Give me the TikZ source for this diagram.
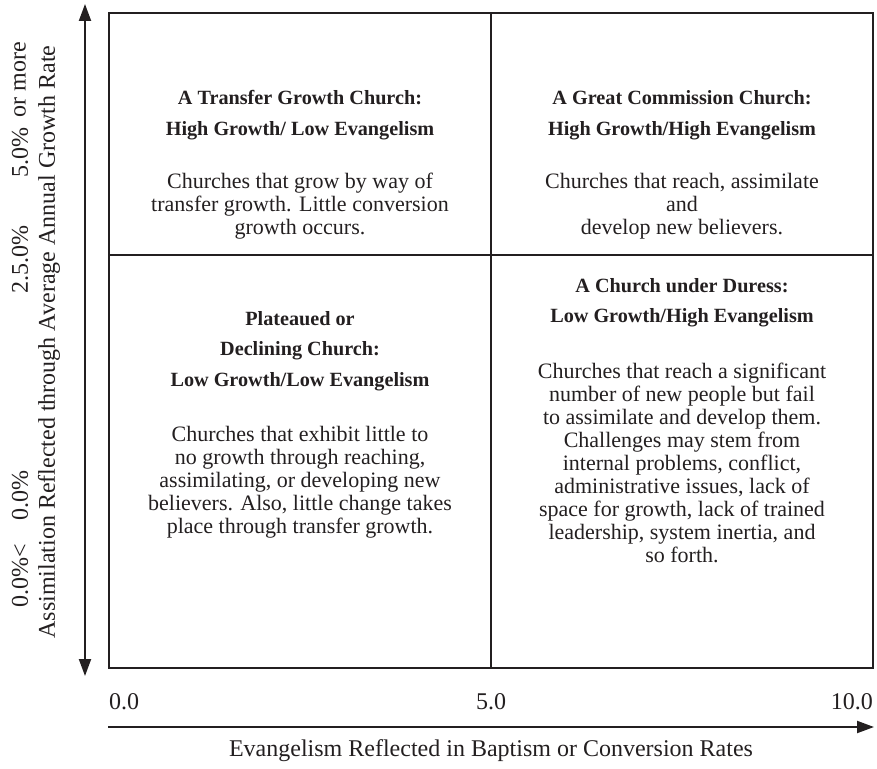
\documentclass[tikz,border=0pt]{standalone}
\usepackage{fontspec}
\setmainfont{Liberation Serif}
\usetikzlibrary{arrows.meta}
\definecolor{ink}{HTML}{231F20}
\begin{document}
\begin{tikzpicture}[x=1pt,y=-1pt,
  frame/.style={draw=ink,line width=2.4pt},
  axis/.style={draw=ink,line width=2pt},
  head/.style={text=ink,align=center,font=\fontsize{20.2}{30.5}\selectfont\bfseries},
  body/.style={text=ink,align=center,font=\fontsize{22}{23}\selectfont},
  lab/.style={text=ink,font=\fontsize{24}{26}\selectfont},
  vlab/.style={lab,rotate=90}]
\useasboundingbox (0,0) rectangle (877,768);
% frame
\coordinate (tl) at (109,13);
\coordinate (br) at (873,668);
\coordinate (mt) at (491,13);
\coordinate (mb) at (491,668);
\coordinate (ml) at (109,255);
\coordinate (mr) at (873,255);
\draw[frame] (tl) rectangle (br);
\draw[frame] (mt) -- (mb);
\draw[frame] (ml) -- (mr);
% axes
\coordinate (yb) at (85,676);
\coordinate (yt) at (85,4);
\coordinate (xl) at (108,727);
\coordinate (xr) at (874,727);
\draw[axis,{Triangle[length=17pt,width=12pt]}-{Triangle[length=17pt,width=12pt]}] (yb) -- (yt);
\draw[axis,-{Triangle[length=17pt,width=12pt]}] (xl) -- (xr);
% quadrant texts
\node[head] (h1) at (300,115) {A Transfer Growth Church:\\High Growth/ Low Evangelism};
\node[body] (b1) at (300,206) {Churches that grow by way of\\transfer growth. Little conversion\\growth occurs.};
\node[head] (h2) at (682,115) {A Great Commission Church:\\High Growth/High Evangelism};
\node[body] (b2) at (682,206) {Churches that reach, assimilate\\and\\develop new believers.};
\node[head] (h3) at (300,351) {Plateaued or\\Declining Church:\\Low Growth/Low Evangelism};
\node[body] (b3) at (300,482) {Churches that exhibit little to\\no growth through reaching,\\assimilating, or developing new\\believers. Also, little change takes\\place through transfer growth.};
\node[head] (h4) at (682,302.5) {A Church under Duress:\\Low Growth/High Evangelism};
\node[body] (b4) at (682,463) {Churches that reach a significant\\number of new people but fail\\to assimilate and develop them.\\Challenges may stem from\\internal problems, conflict,\\administrative issues, lack of\\space for growth, lack of trained\\leadership, system inertia, and\\so forth.};
% x axis labels
\node[lab,anchor=west] (x0) at (105.5,702) {0.0};
\node[lab] (x5) at (491,702) {5.0};
\node[lab,anchor=east] (x10) at (876.5,702) {10.0};
\node[lab] (xt) at (491,751) {Evangelism Reflected in Baptism or Conversion Rates};
% y axis labels
\node[vlab] (y0a) at (20,576) {0.0\%<};
\node[vlab] (y0b) at (20,495) {0.0\%};
\node[vlab] (y25) at (20,260) {2.5.0\%};
\node[vlab] (y5) at (20,153) {5.0\%};
\node[vlab] (ym) at (20,80) {or more};
\node[vlab] (ytl) at (49,342) {Assimilation Reflected through Average Annual Growth Rate};
\end{tikzpicture}
\end{document}
